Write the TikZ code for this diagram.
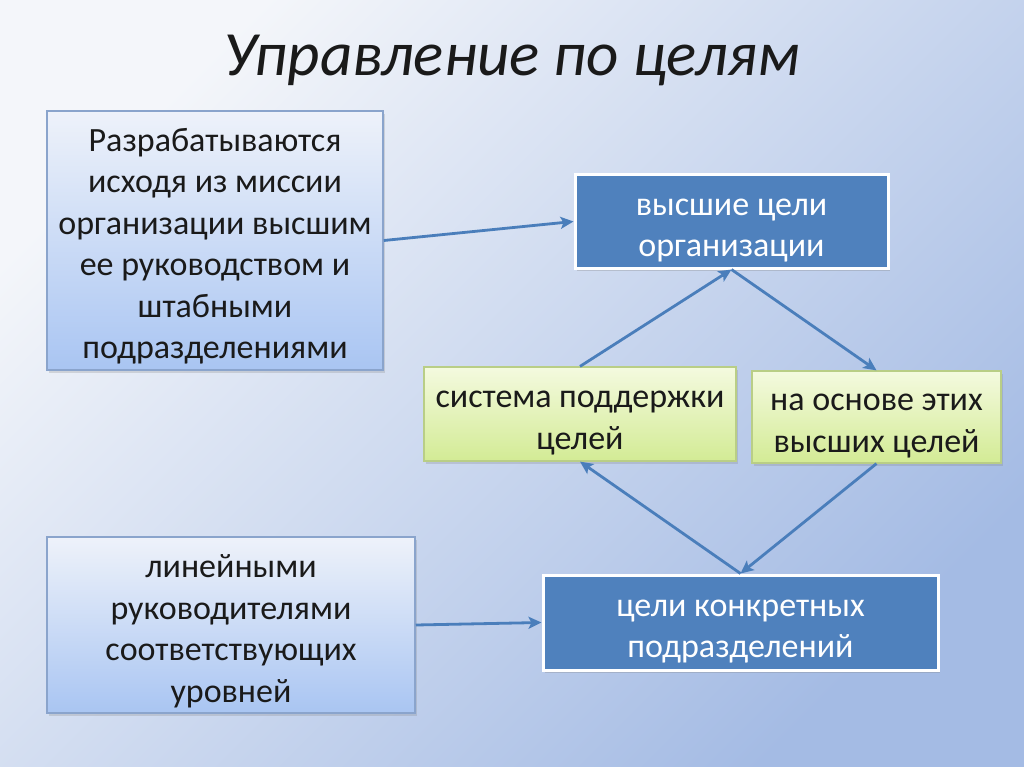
\documentclass[tikz,border=0pt]{standalone}
\usepackage{fontspec}
\setmainfont{Carlito}
\usetikzlibrary{arrows.meta,shadows}
\definecolor{bgA}{HTML}{F4F6FA}
\definecolor{bgB}{HTML}{A4BBE4}
\definecolor{dblue}{HTML}{4F81BD}
\definecolor{arrowc}{HTML}{4A7EBB}
\definecolor{lbTop}{HTML}{EEF2FA}
\definecolor{lbBot}{HTML}{A9C5F2}
\definecolor{lbBorder}{HTML}{8AA4CC}
\definecolor{grTop}{HTML}{F4FADF}
\definecolor{grBot}{HTML}{D3EB95}
\definecolor{grBorder}{HTML}{B9CE86}
\definecolor{txt}{HTML}{1A1A1A}
\newcommand\firststrut{\rule{0pt}{35pt}}
\tikzset{
  every node/.style={inner sep=0pt, align=center},
  bodytext/.style={font=\fontsize{34}{41.5}\selectfont, text=txt},
  lightbox/.style={bodytext, draw=lbBorder, line width=1.5pt, top color=lbTop, bottom color=lbBot,
     drop shadow={opacity=0.25, shadow xshift=2pt, shadow yshift=-3pt}},
  greenbox/.style={bodytext, draw=grBorder, line width=1.2pt, top color=grTop, bottom color=grBot,
     drop shadow={opacity=0.25, shadow xshift=2pt, shadow yshift=-3pt}},
  darkbox/.style={font=\fontsize{34}{41.5}\selectfont, text=white, draw=white, line width=3pt, fill=dblue,
     drop shadow={opacity=0.3, shadow xshift=2pt, shadow yshift=-3pt}},
  conn/.style={draw=arrowc, line width=2.8pt, -{Stealth[length=13pt, width=12pt, inset=3pt]}},
}
\begin{document}
\begin{tikzpicture}[x=1pt, y=-1pt]
\useasboundingbox (0,0) rectangle (1024,767);
\shade[top color=bgA, bottom color=bgB, shading angle=45] (0,0) rectangle (1024,767);

\node[font=\fontsize{63}{75}\selectfont\itshape, text=txt] (title) at (512,60) {Управление по целям};

\node[lightbox, minimum width=336pt, minimum height=259pt] (b1) at (215,240.5)
  {\firststrut Разрабатываются\\исходя из миссии\\организации высшим\\ее руководством и\\штабными\\подразделениями};
\node[darkbox, minimum width=313pt, minimum height=93pt] (top) at (731.5,221.5)
  {\firststrut высшие цели\\организации};
\node[greenbox, minimum width=312pt, minimum height=94pt] (g1) at (580,414)
  {\firststrut система поддержки\\целей};
\node[greenbox, minimum width=249pt, minimum height=92pt] (g2) at (876.5,417)
  {\firststrut на основе этих\\высших целей};
\node[darkbox, minimum width=395pt, minimum height=95pt] (bot) at (740.5,622.5)
  {\firststrut цели конкретных\\подразделений};
\node[lightbox, minimum width=368pt, minimum height=176pt] (b6) at (231,625)
  {\firststrut линейными\\руководителями\\соответствующих\\уровней};

\draw[conn] (b1.east) -- (top.west);
\draw[conn] (g1.north) -- (top.south);
\draw[conn] (top.south) -- (g2.north);
\draw[conn] (g2.south) -- (bot.north);
\draw[conn] (bot.north) -- (g1.south);
\draw[conn] (b6.east) -- (bot.west);
\end{tikzpicture}
\end{document}
